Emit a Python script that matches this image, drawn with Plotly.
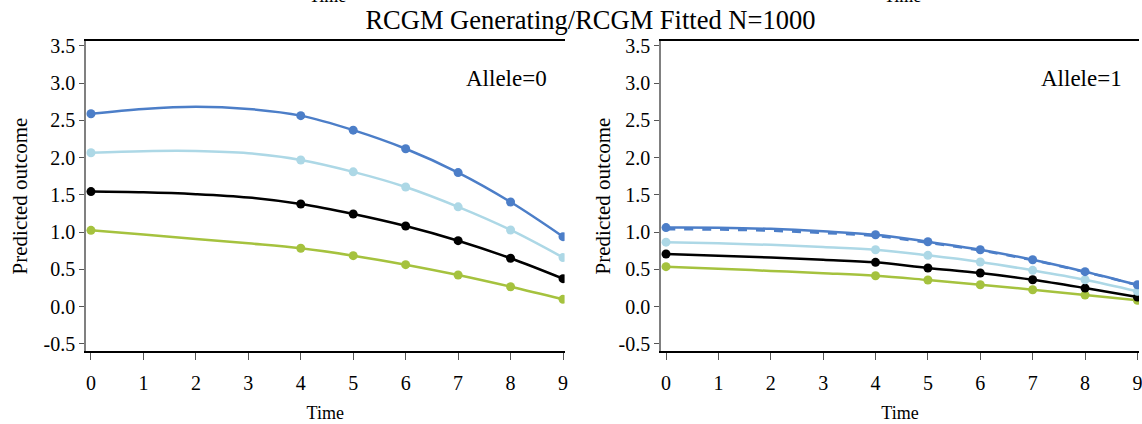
import plotly.graph_objects as go

# ---- data ----
curve_time = [0, 1, 2, 3, 4, 5, 6, 7, 8, 9]
marker_time = [0, 4, 5, 6, 7, 8, 9]

# Allele = 0 (left panel)
a0_blue = [2.59, 2.655, 2.685, 2.655, 2.565, 2.37, 2.12, 1.80, 1.405, 0.94]
a0_light = [2.067, 2.088, 2.09, 2.06, 1.97, 1.81, 1.607, 1.34, 1.03, 0.66]
a0_black = [1.545, 1.535, 1.51, 1.465, 1.378, 1.244, 1.083, 0.886, 0.65, 0.376]
a0_green = [1.025, 0.97, 0.91, 0.85, 0.784, 0.685, 0.564, 0.425, 0.268, 0.099]

# Allele = 1 (right panel)
a1_blue = [1.062, 1.06, 1.045, 1.012, 0.966, 0.872, 0.765, 0.63, 0.47, 0.295]
a1_blue_dash = [1.04, 1.035, 1.02, 0.99, 0.95, 0.86, 0.755, 0.625, 0.465, 0.29]
a1_light = [0.866, 0.85, 0.83, 0.80, 0.765, 0.689, 0.60, 0.488, 0.362, 0.206]
a1_black = [0.707, 0.685, 0.66, 0.63, 0.595, 0.52, 0.452, 0.362, 0.25, 0.13]
a1_green = [0.537, 0.51, 0.48, 0.45, 0.416, 0.358, 0.295, 0.228, 0.157, 0.085]

y_ticks = [-0.5, 0.0, 0.5, 1.0, 1.5, 2.0, 2.5, 3.0, 3.5]
y_tick_text = ["-0.5", "0.0", "0.5", "1.0", "1.5", "2.0", "2.5", "3.0", "3.5"]
x_ticks = [0, 1, 2, 3, 4, 5, 6, 7, 8, 9]

title_text = "RCGM Generating/RCGM Fitted N=1000"
panel_labels = ["Allele=0", "Allele=1"]

# ---- styling ----
C_BLUE = "#4C7EC8"
C_LIGHT = "#ADD8E6"
C_BLACK = "#000000"
C_GREEN = "#A5C23E"
FONT = "Liberation Serif"
TICK_FONT = dict(family=FONT, size=20, color="black")

fig = go.Figure()


def pick(values):
    return [values[curve_time.index(t)] for t in marker_time]


def add_series(values, color, xa, ya, dash="solid", markers=True):
    fig.add_trace(go.Scatter(
        x=curve_time, y=values, mode="lines",
        line=dict(color=color, width=2.5, shape="spline", smoothing=1.0, dash=dash),
        xaxis=xa, yaxis=ya, showlegend=False, hoverinfo="skip"))
    if markers:
        fig.add_trace(go.Scatter(
            x=marker_time, y=pick(values), mode="markers",
            marker=dict(color=color, size=9),
            xaxis=xa, yaxis=ya, showlegend=False))


for vals, col in [(a0_green, C_GREEN), (a0_black, C_BLACK), (a0_light, C_LIGHT), (a0_blue, C_BLUE)]:
    add_series(vals, col, "x", "y")

for vals, col in [(a1_green, C_GREEN), (a1_black, C_BLACK), (a1_light, C_LIGHT)]:
    add_series(vals, col, "x2", "y2")
add_series(a1_blue_dash, C_BLUE, "x2", "y2", dash="dash", markers=False)
add_series(a1_blue, C_BLUE, "x2", "y2")

xaxis_common = dict(
    range=[-0.095, 9.03], tickmode="array", tickvals=x_ticks,
    ticktext=[str(t) for t in x_ticks],
    showgrid=False, zeroline=False,
    showline=True, linecolor="black", linewidth=1.5, mirror=True,
    ticks="outside", ticklen=7, tickcolor="#555555", tickwidth=1.2,
    ticklabelstandoff=6,
    tickfont=TICK_FONT,
    title=dict(text="Time", font=dict(family=FONT, size=18, color="black"), standoff=14),
)
yaxis_common = dict(
    range=[-0.595, 3.567], tickmode="array", tickvals=y_ticks, ticktext=y_tick_text,
    showgrid=False, zeroline=False,
    showline=True, linecolor="#808080", linewidth=1.5,
    ticks="outside", ticklen=5, tickcolor="#555555", tickwidth=1.2,
    tickfont=TICK_FONT,
)
ytitle_font = dict(family=FONT, size=21, color="black")

fig.update_layout(
    width=1142, height=424,
    margin=dict(l=86, r=0, t=41, b=73),
    paper_bgcolor="white", plot_bgcolor="white",
    font=dict(family=FONT, color="black", size=20),
    title=dict(text=title_text, x=0.517, xanchor="center", y=0.953, yanchor="middle",
               font=dict(family=FONT, size=26.5, color="black")),
    xaxis=dict(domain=[0, 0.4545], anchor="y", **xaxis_common),
    yaxis=dict(domain=[0, 1], anchor="x",
               title=dict(text="Predicted outcome", font=ytitle_font, standoff=10),
               **yaxis_common),
    xaxis2=dict(domain=[0.5461, 1], anchor="y2", **xaxis_common),
    yaxis2=dict(domain=[0, 1], anchor="x2",
                title=dict(text="Predicted outcome", font=ytitle_font, standoff=2),
                **yaxis_common),
    showlegend=False,
)
fig.update_xaxes(tickfont=TICK_FONT, ticklabeloverflow="allow")
fig.update_yaxes(tickfont=TICK_FONT)

# panel labels
fig.add_annotation(text=panel_labels[0], xref="x", yref="y", x=7.93, y=3.07,
                   showarrow=False, font=dict(family=FONT, size=23, color="black"))
fig.add_annotation(text=panel_labels[1], xref="x2", yref="y2", x=7.93, y=3.07,
                   showarrow=False, font=dict(family=FONT, size=23, color="black"))

# cut-off axis titles from the row above
for xc in [328, 905]:
    fig.add_annotation(text="Time", xref="paper", yref="paper",
                       x=(xc - 86) / 1056, y=(351 + 4) / 310, xanchor="center", yanchor="middle",
                       showarrow=False, font=dict(family=FONT, size=18, color="black"))

fig.write_html("out.html")
